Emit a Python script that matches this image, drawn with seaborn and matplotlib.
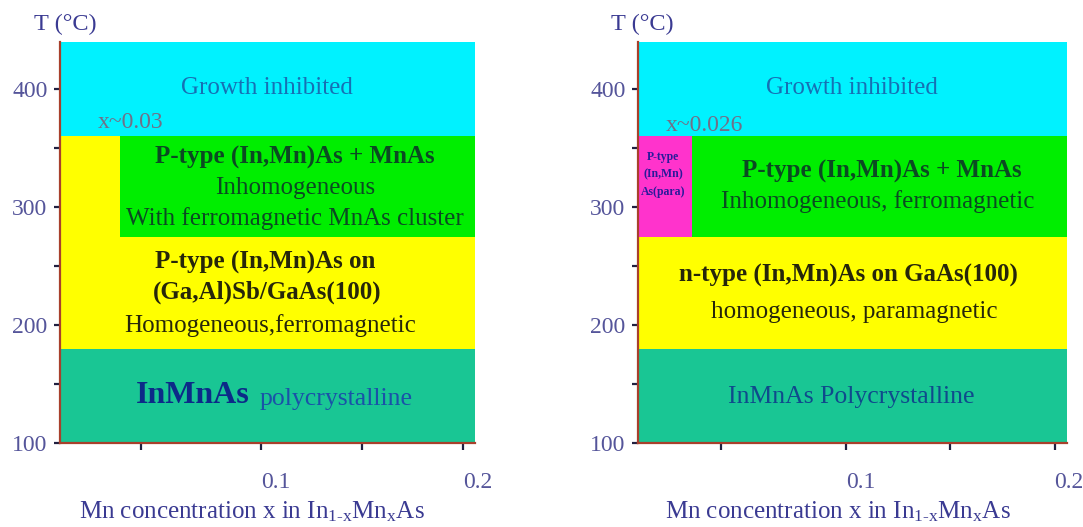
import matplotlib
matplotlib.use("Agg")
import matplotlib.pyplot as plt
import seaborn as sns

# ---- phase-diagram data -------------------------------------------------
x_max = 0.206                      # right end of the composition axis
t_min, t_max = 100, 440            # temperature range (deg C)

# boundaries (temperature, deg C)
t_poly = 180                       # polycrystalline / single phase
t_mix = 275                        # single phase / MnAs precipitation
t_growth = 360                     # growth inhibited above this

x_limit_left = 0.03                # solubility limit, (Ga,Al)Sb buffer
x_limit_right = 0.026              # solubility limit, GaAs substrate

# regions: x start, x end, T low, T high, colour
left_x0 = [0.0, x_limit_left, 0.0, 0.0, 0.0]
left_x1 = [x_max, x_max, x_limit_left, x_max, x_max]
left_t0 = [t_growth, t_mix, t_mix, t_poly, t_min]
left_t1 = [t_max, t_growth, t_growth, t_mix, t_poly]
left_colors = ["#00f2ff", "#00ee00", "#ffff00", "#ffff00", "#19c694"]

right_x0 = [0.0, x_limit_right, 0.0, 0.0, 0.0]
right_x1 = [x_max, x_max, x_limit_right, x_max, x_max]
right_t0 = [t_growth, t_mix, t_mix, t_poly, t_min]
right_t1 = [t_max, t_growth, t_growth, t_mix, t_poly]
right_colors = ["#00f2ff", "#00ee00", "#ff33cc", "#ffff00", "#19c694"]

y_major = [100, 200, 300, 400]
y_minor = [150, 250, 350]
x_major = [0.1, 0.2]
x_major_labels = ["0.1", "0.2"]
x_minor = [0.04, 0.15]

# ---- style ---------------------------------------------------------------
sns.set_theme(style="white")
plt.rcParams["font.family"] = ["Liberation Serif", "DejaVu Serif"]
plt.rcParams["mathtext.fontset"] = "custom"
plt.rcParams["mathtext.rm"] = "Liberation Serif"
plt.rcParams["mathtext.it"] = "Liberation Serif:italic"

tick_color = "#55559a"
label_color = "#3a3a92"
spine_color = "#a8402c"
fs = 18                            # body text size

fig = plt.figure(figsize=(10.83, 5.27), dpi=100)
ax_l = fig.add_axes([60 / 1083, 1 - 443 / 527, 415 / 1083, 401 / 527])
ax_r = fig.add_axes([638 / 1083, 1 - 443 / 527, 429 / 1083, 401 / 527])


def draw_regions(ax, x0, x1, t0, t1, colors):
    for a, b, lo, hi, c in zip(x0, x1, t0, t1, colors):
        ax.bar(a, hi - lo, width=b - a, bottom=lo, align="edge",
               color=c, linewidth=0, zorder=1)


def style_axes(ax):
    ax.set_xlim(0, x_max)
    ax.set_ylim(t_min, t_max)
    sns.despine(ax=ax, top=True, right=True)
    for side in ("left", "bottom"):
        ax.spines[side].set_color(spine_color)
        ax.spines[side].set_linewidth(1.6)
        ax.spines[side].set_zorder(3)
    ax.set_yticks(y_major)
    ax.set_yticklabels([str(v) for v in y_major])
    ax.set_yticks(y_minor, minor=True)
    ax.set_xticks(x_major)
    ax.set_xticklabels(x_major_labels)
    ax.set_xticks(x_minor, minor=True)
    ax.tick_params(axis="both", which="both", direction="out",
                   color="#202040", width=1.6, labelcolor=tick_color,
                   labelsize=17)
    ax.tick_params(axis="y", which="both", length=4, pad=5, left=True)
    ax.tick_params(axis="x", which="both", length=5, pad=16, bottom=True)
    for lbl in ax.get_xticklabels():
        lbl.set_horizontalalignment("left")
    ax.set_xlabel("")
    ax.set_ylabel("")
    ax.grid(False)


def put(ax, fx, fy, s, size, color, weight="normal", ha="center"):
    ax.text(fx, fy, s, transform=ax.transAxes, ha=ha, va="center",
            fontsize=size, color=color, fontweight=weight, zorder=4)


axis_title = r"Mn concentration x in In$_{\text{1-x}}$Mn$_{\text{x}}$As"

# ---- left panel: (In,Mn)As on (Ga,Al)Sb/GaAs(100) ------------------------
draw_regions(ax_l, left_x0, left_x1, left_t0, left_t1, left_colors)
style_axes(ax_l)
put(ax_l, 0.499, 0.885, "Growth inhibited", fs, "#1670b4")
put(ax_l, 0.171, 0.800, "x~0.03", 17, "#707088")
put(ax_l, 0.566, 0.711, "P-type (In,Mn)As + MnAs", fs, "#0b4a22", "bold")
put(ax_l, 0.566, 0.636, "Inhomogeneous", fs, "#0b4a22")
put(ax_l, 0.566, 0.561, "With ferromagnetic MnAs cluster", fs, "#0b4a22")
put(ax_l, 0.494, 0.449, "P-type (In,Mn)As on", fs, "#26260a", "bold")
put(ax_l, 0.499, 0.377, "(Ga,Al)Sb/GaAs(100)", fs, "#26260a", "bold")
put(ax_l, 0.506, 0.294, "Homogeneous,ferromagnetic", fs, "#26260a")
put(ax_l, 0.458, 0.118, "InMnAs", 23, "#0c2a88", "bold", ha="right")
put(ax_l, 0.480, 0.110, "polycrystalline", 18.5, "#1a52a8", ha="left")
put(ax_l, 0.012, 1.045, "T (\u00b0C)", 17.5, label_color)
put(ax_l, 0.463, -0.172, axis_title, fs, label_color)

# ---- right panel: (In,Mn)As on GaAs(100) ---------------------------------
draw_regions(ax_r, right_x0, right_x1, right_t0, right_t1, right_colors)
style_axes(ax_r)
put(ax_r, 0.499, 0.885, "Growth inhibited", fs, "#1670b4")
put(ax_r, 0.156, 0.793, "x~0.026", 17, "#707088")
put(ax_r, 0.058, 0.713, "P-type", 8.5, "#2a1a9a", "bold")
put(ax_r, 0.058, 0.671, "(In,Mn)", 8.5, "#2a1a9a", "bold")
put(ax_r, 0.058, 0.626, "As(para)", 8.5, "#2a1a9a", "bold")
put(ax_r, 0.569, 0.676, "P-type (In,Mn)As + MnAs", fs, "#0b4a22", "bold")
put(ax_r, 0.559, 0.601, "Inhomogeneous, ferromagnetic", fs, "#0b4a22")
put(ax_r, 0.490, 0.419, "n-type (In,Mn)As on GaAs(100)", fs, "#26260a", "bold")
put(ax_r, 0.503, 0.327, "homogeneous, paramagnetic", fs, "#26260a")
put(ax_r, 0.497, 0.115, "InMnAs Polycrystalline", 18.5, "#0f4a8c")
put(ax_r, 0.010, 1.045, "T (\u00b0C)", 17.5, label_color)
put(ax_r, 0.466, -0.172, axis_title, fs, label_color)

fig.savefig("out.png", dpi=100)
